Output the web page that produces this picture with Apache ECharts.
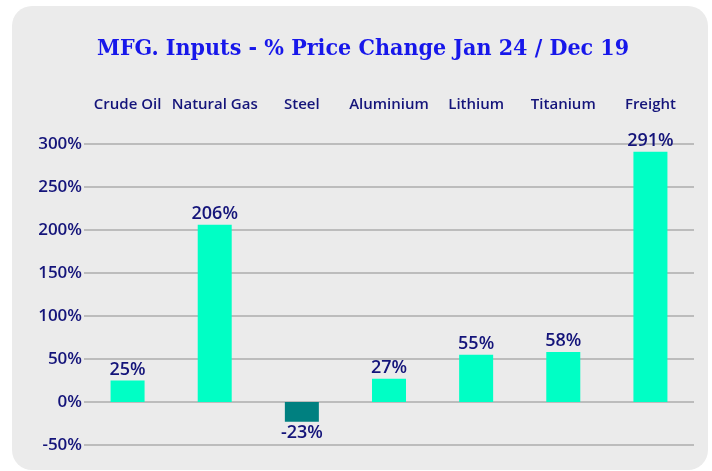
<!DOCTYPE html>
<html>
<head>
<meta charset="utf-8">
<script src="https://cdn.jsdelivr.net/npm/echarts@6/dist/echarts.min.js"></script>
<style>
  html, body { margin: 0; padding: 0; background: #ffffff; }
  #panel {
    position: absolute; left: 12px; top: 6px; width: 696px; height: 464px;
    background: #ebebeb; border-radius: 20px;
  }
  #chart { position: absolute; left: 0; top: 0; width: 712px; height: 471px; }
</style>
</head>
<body>
<div id="panel"></div>
<div id="chart"></div>
<script>
// values
const categories = ['Crude Oil', 'Natural Gas', 'Steel', 'Aluminium', 'Lithium', 'Titanium', 'Freight'];
const priceChange = [25, 206, -23, 27, 55, 58, 291];

const chart = echarts.init(document.getElementById('chart'));
const navy = '#14147a';

let option = {
  animation: false,
  title: {
    text: 'MFG. Inputs - % Price Change Jan 24 / Dec 19',
    left: 92,
    top: 33,
    textStyle: {
      color: '#1717ea',
      fontFamily: 'DejaVu Serif Condensed',
      fontWeight: 'bold',
      fontSize: 23
    }
  },
  grid: { left: 84, right: 18, top: 144, bottom: 26 },
  xAxis: {
    type: 'category',
    position: 'top',
    data: categories,
    axisLine: { show: false },
    axisTick: { show: false },
    axisLabel: {
      interval: 0,
      margin: 32,
      color: navy,
      fontFamily: 'Open Sans',
      fontWeight: 600,
      fontSize: 15
    }
  },
  yAxis: {
    type: 'value',
    min: -50,
    max: 300,
    interval: 50,
    axisLine: { show: false },
    axisTick: { show: false },
    splitLine: { lineStyle: { color: '#bcbcbc', width: 2 } },
    axisLabel: {
      margin: 2,
      color: navy,
      fontFamily: 'Open Sans',
      fontWeight: 600,
      fontSize: 17,
      formatter: '{value}%'
    }
  },
  series: [{
    type: 'bar',
    barWidth: 34,
    data: priceChange.map(v => ({
      value: v,
      itemStyle: { color: v < 0 ? '#008080' : '#00ffc5' },
      label: { position: v < 0 ? 'bottom' : 'top' }
    })),
    label: {
      show: true,
      distance: 2,
      color: navy,
      fontFamily: 'Open Sans',
      fontWeight: 600,
      fontSize: 18,
      formatter: '{c}%'
    }
  }]
};

chart.setOption(option);
</script>
</body>
</html>
